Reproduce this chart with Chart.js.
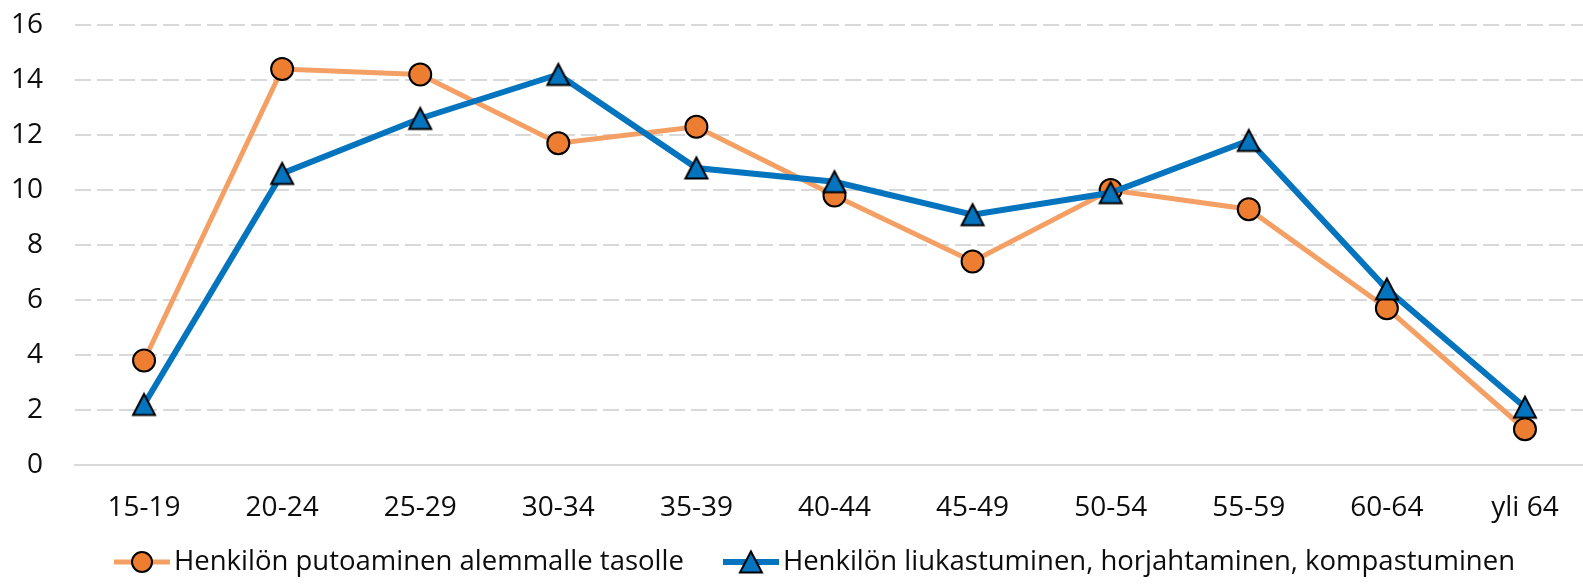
<!DOCTYPE html>
<html>
<head>
<meta charset="utf-8">
<script src="https://cdn.jsdelivr.net/npm/chart.js@4.4.1/dist/chart.umd.min.js"></script>
<style>
  html, body { margin: 0; padding: 0; background: #fff; overflow: hidden; }
  #chart1 { display: block; }
</style>
</head>
<body>
<canvas id="chart1" width="1600" height="585"></canvas>
<script>
var ageGroups = ["15-19", "20-24", "25-29", "30-34", "35-39", "40-44", "45-49", "50-54", "55-59", "60-64", "yli 64"];
var putoaminen = [3.8, 14.4, 14.2, 11.7, 12.3, 9.8, 7.4, 10.0, 9.3, 5.7, 1.3];
var liukastuminen = [2.2, 10.6, 12.6, 14.2, 10.8, 10.3, 9.1, 9.9, 11.8, 6.4, 2.1];
var seriesNames = ["Henkilön putoaminen alemmalle tasolle", "Henkilön liukastuminen, horjahtaminen, kompastuminen"];
var yMin = 0;
var yMax = 16;
var yStep = 2;

var orangeLine = "#F4A065";
var orangeFill = "#ED7D31";
var blueLine = "#0474BE";
var blueFill = "#0474BE";
var textColor = "#0d0d0d";
var fontName = "'Open Sans', 'Noto Sans', sans-serif";
var fontSize = 28;
var legendFontSize = 27.5;
//legend row placement
var legendCenterX = 814.5;
var legendY = 562;
var legendGap = 39;

//draw a triangle marker like excel's
function drawTriangle(g, cx, cy, fill) {
  g.beginPath();
  g.moveTo(cx, cy - 10.5);
  g.lineTo(cx + 11, cy + 10.5);
  g.lineTo(cx - 11, cy + 10.5);
  g.closePath();
  g.fillStyle = fill;
  g.fill();
  g.lineWidth = 2;
  g.lineJoin = "miter";
  g.strokeStyle = "#000";
  g.stroke();
}

function makeTriangle(fill) {
  var c = document.createElement("canvas");
  c.width = 30;
  c.height = 30;
  drawTriangle(c.getContext("2d"), 15, 15, fill);
  return c;
}

//legend sample: line with marker in the middle
function makeLegendSample(color, lw, fill, marker) {
  var c = document.createElement("canvas");
  c.width = 56;
  c.height = 30;
  var g = c.getContext("2d");
  g.strokeStyle = color;
  g.lineWidth = lw;
  g.beginPath();
  g.moveTo(0, 15);
  g.lineTo(56, 15);
  g.stroke();
  if (marker == "circle") {
    g.beginPath();
    g.arc(28, 15, 10, 0, Math.PI * 2);
    g.fillStyle = fill;
    g.fill();
    g.lineWidth = 2;
    g.strokeStyle = "#000";
    g.stroke();
  } else {
    drawTriangle(g, 28, 15, fill);
  }
  return c;
}

var triangleImg = makeTriangle(blueFill);
var legendImgs = [
  makeLegendSample(orangeLine, 5, orangeFill, "circle"),
  makeLegendSample(blueLine, 6, blueFill, "triangle"),
];

const ctx = document.getElementById("chart1");

var myChart = new Chart(ctx, {
  type: "line",
  data: {
    labels: ageGroups,
    datasets: [
      {
        label: seriesNames[0],
        data: putoaminen,
        borderColor: orangeLine,
        borderWidth: 5,
        backgroundColor: orangeFill,
        pointStyle: "circle",
        pointRadius: 11,
        pointBorderWidth: 2,
        pointBorderColor: "#000",
        pointBackgroundColor: orangeFill,
        tension: 0,
        order: 1,
      },
      {
        label: seriesNames[1],
        data: liukastuminen,
        borderColor: blueLine,
        borderWidth: 6,
        backgroundColor: blueFill,
        pointStyle: triangleImg,
        pointRadius: 11,
        tension: 0,
        order: 0,
      },
    ],
  },
  options: {
    responsive: false,
    animation: false,
    events: [],
    layout: {
      //no extra room for the markers, the plot area is set by hand
      autoPadding: false,
      padding: { top: 25, left: 0, right: 6, bottom: 60 },
    },
    plugins: {
      tooltip: { enabled: false },
      legend: { display: false },
    },
    scales: {
      x: {
        offset: true,
        afterFit: function (scale) {
          scale.height = 60;
          scale.paddingLeft = 0;
          scale.paddingRight = 0;
        },
        grid: { display: false, drawTicks: false },
        border: { display: true, color: "#D9D9D9", width: 2 },
        ticks: {
          padding: 26,
          color: textColor,
          font: { family: fontName, size: fontSize },
        },
      },
      y: {
        min: yMin,
        max: yMax,
        afterFit: function (scale) {
          scale.width = 75;
          scale.paddingTop = 0;
          scale.paddingBottom = 0;
        },
        grid: { color: "#D9D9D9", lineWidth: 2, drawTicks: false },
        border: { display: false, dash: [16, 6] },
        ticks: {
          stepSize: yStep,
          padding: 32,
          color: textColor,
          font: { family: fontName, size: fontSize },
        },
      },
    },
  },
  plugins: [
    {
      //legend row under the axis: line sample with marker, then the series name
      id: "lineLegend",
      afterDraw: (chart) => {
        const c = chart.ctx;
        c.save();
        c.font = legendFontSize + "px " + fontName;
        c.fillStyle = textColor;
        c.textBaseline = "middle";
        c.textAlign = "left";
        var widths = seriesNames.map(function (n) {
          return c.measureText(n).width;
        });
        var total = 0;
        widths.forEach(function (w) {
          total += 56 + 4 + w;
        });
        total += legendGap * (widths.length - 1);
        var x = legendCenterX - total / 2;
        seriesNames.forEach(function (n, i) {
          c.drawImage(legendImgs[i], x, legendY - 15);
          x += 56 + 4;
          c.fillText(n, x, legendY);
          x += widths[i] + legendGap;
        });
        c.restore();
      },
    },
  ],
});
</script>
</body>
</html>
